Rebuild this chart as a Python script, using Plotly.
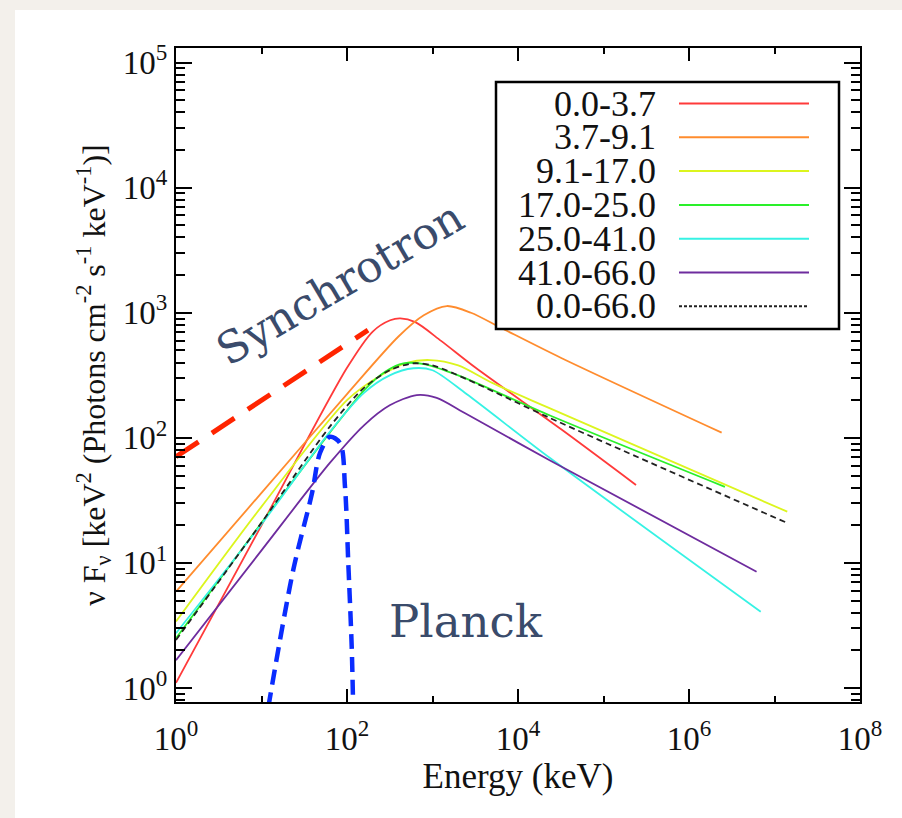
import plotly.graph_objects as go

# ---------------- data ----------------
labels = ["0.0-3.7", "3.7-9.1", "9.1-17.0", "17.0-25.0", "25.0-41.0", "41.0-66.0", "0.0-66.0"]
colors = ["#ff3a3a", "#ff8c2e", "#dcf51e", "#2af02a", "#36f2e4", "#6e2c9e", "#222222"]

E_red = [1, 10, 100, 200, 320, 420, 630, 1260, 3200, 32000, 240000]
F_red = [1.10, 20.0, 363, 708, 871, 902, 841, 596, 363, 117, 42.0]

E_orange = [1, 10, 100, 400, 790, 1470, 2820, 6300, 31600, 2410000]
F_orange = [5.9, 36.3, 224, 646, 955, 1132, 1000, 759, 437, 110]

E_yellow = [1, 10, 100, 250, 500, 935, 2000, 5000, 23700, 14100000]
F_yellow = [3.4, 28.2, 200, 316, 398, 419, 380, 275, 172, 25.7]

E_green = [1, 10, 63, 158, 282, 457, 794, 2000, 23700, 2630000]
F_green = [2.5, 20.9, 110, 240, 339, 394, 389, 316, 151, 40.6]

E_cyan = [1, 10, 63, 158, 316, 597, 1000, 2500, 23700, 6900000]
F_cyan = [2.74, 20.4, 112, 229, 316, 360, 347, 224, 68.9, 4.07]

E_purple = [1, 10, 63, 158, 316, 653, 1120, 2500, 23700, 6170000]
F_purple = [1.67, 12.6, 63, 126, 182, 220, 209, 155, 66, 8.5]

E_total = [1, 10, 63, 158, 316, 589, 1000, 2500, 23700, 13800000]
F_total = [2.42, 21, 123, 251, 347, 394, 380, 295, 144, 21]

E_sync = [1, 176]
F_sync = [70.6, 727]

E_planck = [12, 23.5, 39, 48.3, 63.2, 82.8, 94.8, 103.5, 113.5, 118]
F_planck = [0.7, 8.77, 36.2, 75.6, 102, 90.8, 40.4, 10, 2.14, 0.7]

x_tickvals = [1, 1e2, 1e4, 1e6, 1e8]
x_ticktext = ["10<sup>0</sup>", "10<sup>2</sup>", "10<sup>4</sup>", "10<sup>6</sup>", "10<sup>8</sup>"]
y_tickvals = [1, 1e1, 1e2, 1e3, 1e4, 1e5]
y_ticktext = ["10<sup>0</sup>", "10<sup>1</sup>", "10<sup>2</sup>", "10<sup>3</sup>", "10<sup>4</sup>", "10<sup>5</sup>"]
x_minor = [10, 1e3, 1e5, 1e7]
y_minor = [m * 10 ** p for p in range(-1, 6) for m in range(2, 10)]

# ---------------- figure ----------------
W, H = 902, 818
L, R, T, B = 176, 42, 48, 116
PW, PH = W - L - R, H - T - B
SERIF = "Liberation Serif"


def px(xp):
    return (xp - L) / PW


def py(yp):
    return (H - B - yp) / PH


fig = go.Figure()

series = [(E_red, F_red), (E_orange, F_orange), (E_yellow, F_yellow), (E_green, F_green),
          (E_cyan, F_cyan), (E_purple, F_purple)]
for (ex, fy), lab, col in zip(series, labels[:6], colors[:6]):
    fig.add_trace(go.Scatter(x=ex, y=fy, mode="lines", name=lab,
                             line=dict(color=col, width=1.8, shape="spline", smoothing=0.8),
                             showlegend=False))
fig.add_trace(go.Scatter(x=E_total, y=F_total, mode="lines", name=labels[6],
                         line=dict(color=colors[6], width=1.8, dash="6px,4px",
                                   shape="spline", smoothing=0.8),
                         showlegend=False))
fig.add_trace(go.Scatter(x=E_sync, y=F_sync, mode="lines", name="Synchrotron",
                         line=dict(color="#ff2400", width=5, dash="27px,16px"),
                         showlegend=False))
fig.add_trace(go.Scatter(x=E_planck, y=F_planck, mode="lines", name="Planck",
                         line=dict(color="#0a2cff", width=4.5, dash="15px,8px",
                                   shape="spline", smoothing=0.9),
                         showlegend=False))

axis_common = dict(
    type="log", showgrid=False, zeroline=False, showline=True, linecolor="black",
    linewidth=2, mirror="allticks", ticks="inside", tickcolor="black", tickwidth=2,
    tickfont=dict(family=SERIF, size=33, color="#111"),
)

fig.update_xaxes(
    **axis_common, range=[0, 8], tickmode="array", tickvals=x_tickvals, ticktext=x_ticktext,
    ticklen=13, ticklabelstandoff=6,
    minor=dict(tickmode="array", tickvals=x_minor, ticks="inside", ticklen=6, tickwidth=2,
               tickcolor="black"),
    title=dict(text="Energy (keV)", font=dict(family=SERIF, size=35, color="#111"), standoff=2),
)
fig.update_yaxes(
    **axis_common, range=[-0.112, 5.117], tickmode="array", tickvals=y_tickvals,
    ticktext=y_ticktext, ticklen=16, ticklabelstandoff=0,
    minor=dict(tickmode="array", tickvals=y_minor, ticks="inside", ticklen=9, tickwidth=1.5,
               tickcolor="black"),
    title=dict(text="\u03bd F<sub>\u03bd</sub> [keV<sup>2</sup> (Photons cm<sup>-2</sup> s<sup>-1</sup> keV<sup>-1</sup>)]",
               font=dict(family=SERIF, size=32, color="#111"), standoff=8),
)

shapes = []
# white panel on the beige page
shapes.append(dict(type="rect", xref="paper", yref="paper", x0=px(15), x1=px(W + 5),
                   y0=py(10), y1=py(H + 5), fillcolor="white", line=dict(width=0), layer="below"))
# legend box
shapes.append(dict(type="rect", xref="paper", yref="paper", x0=px(496), x1=px(839),
                   y0=py(82), y1=py(329), fillcolor="white", line=dict(color="black", width=2.5)))

annotations = []
row0, dy = 103.5, 33.8
for i, (lab, col) in enumerate(zip(labels, colors)):
    yc = row0 + i * dy
    annotations.append(dict(xref="paper", yref="paper", x=px(658), y=py(yc), text=lab,
                            showarrow=False, xanchor="right", yanchor="middle",
                            font=dict(family=SERIF, size=36, color="#111")))
    ln = dict(type="line", xref="paper", yref="paper", x0=px(679), x1=px(809), y0=py(yc),
              y1=py(yc), line=dict(color=col, width=2))
    if i == 6:
        ln["line"]["dash"] = "3px,2px"
    shapes.append(ln)

annotations.append(dict(xref="paper", yref="paper", x=px(339), y=py(283), text="Synchrotron",
                        showarrow=False, textangle=-30.5, xanchor="center", yanchor="middle",
                        font=dict(family="DejaVu Serif", size=44, color="#3a4b6b")))
annotations.append(dict(xref="paper", yref="paper", x=px(466), y=py(621), text="Planck",
                        showarrow=False, xanchor="center", yanchor="middle",
                        font=dict(family="DejaVu Serif", size=45, color="#3a4b6b")))

fig.update_layout(
    width=W, height=H, margin=dict(l=L, r=R, t=T, b=B, autoexpand=False),
    paper_bgcolor="#f3f0eb", plot_bgcolor="white",
    shapes=shapes, annotations=annotations, showlegend=False,
)

fig.write_html("out.html")
